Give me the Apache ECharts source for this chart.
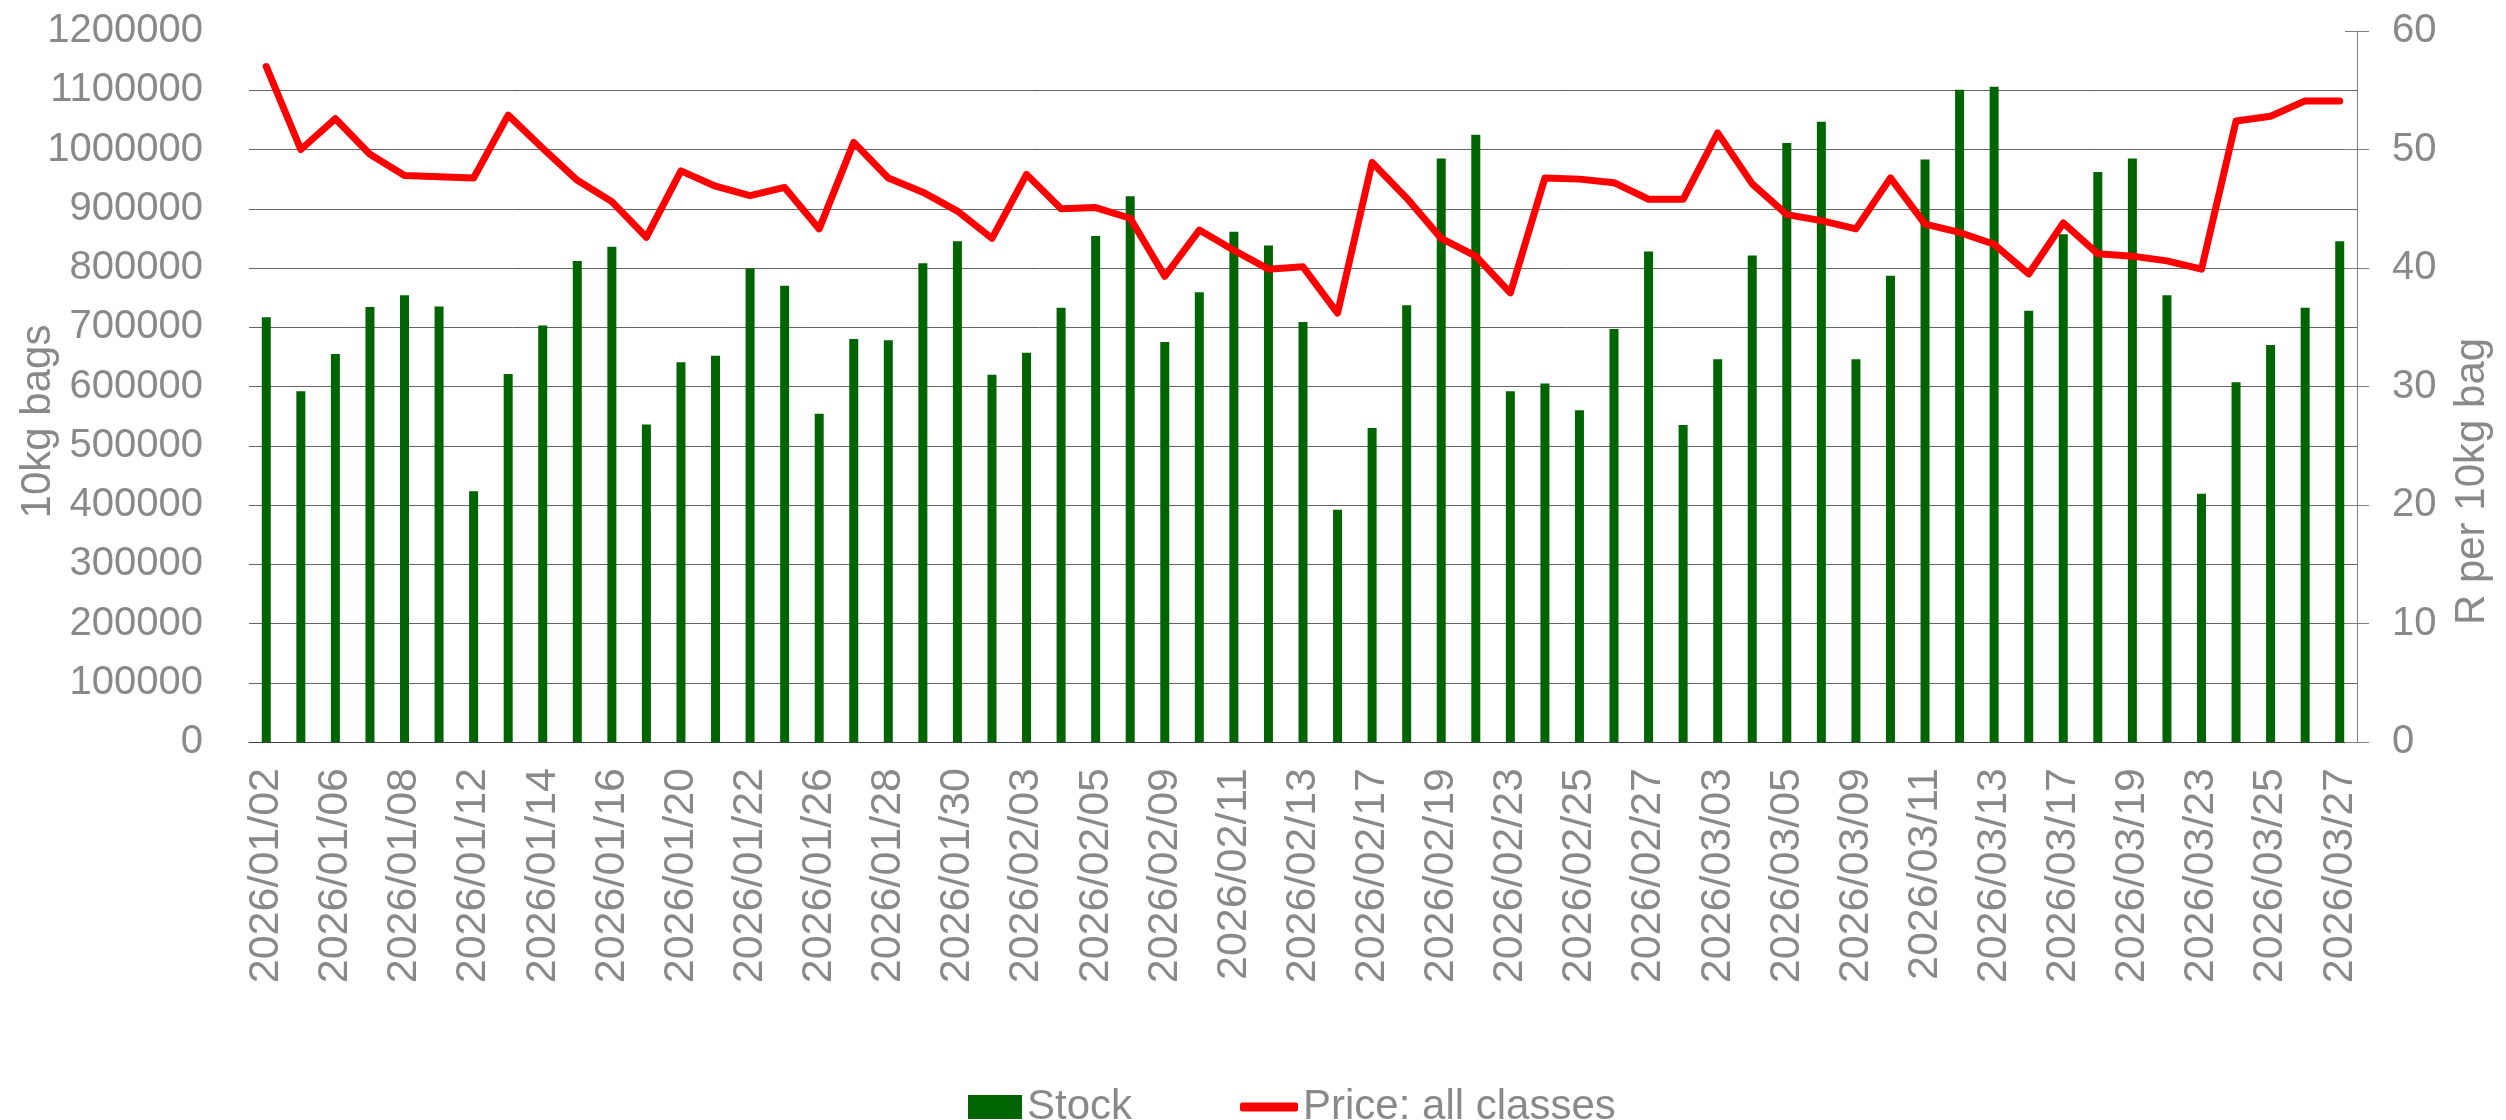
<!DOCTYPE html>
<html>
<head>
<meta charset="utf-8">
<script src="https://cdn.jsdelivr.net/npm/echarts@6/dist/echarts.min.js"></script>
<style>
  html, body { margin: 0; padding: 0; background: #ffffff; }
  #chart_stockPrice { width: 2506px; height: 1120px; }
</style>
</head>
<body>
<div id="chart_stockPrice"></div>
<script>
// trading days
const dates = [
  '2026/01/02', '2026/01/05', '2026/01/06', '2026/01/07', '2026/01/08', '2026/01/09',
  '2026/01/12', '2026/01/13', '2026/01/14', '2026/01/15', '2026/01/16',
  '2026/01/19', '2026/01/20', '2026/01/21', '2026/01/22', '2026/01/23',
  '2026/01/26', '2026/01/27', '2026/01/28', '2026/01/29', '2026/01/30',
  '2026/02/02', '2026/02/03', '2026/02/04', '2026/02/05', '2026/02/06',
  '2026/02/09', '2026/02/10', '2026/02/11', '2026/02/12', '2026/02/13',
  '2026/02/16', '2026/02/17', '2026/02/18', '2026/02/19', '2026/02/20',
  '2026/02/23', '2026/02/24', '2026/02/25', '2026/02/26', '2026/02/27',
  '2026/03/02', '2026/03/03', '2026/03/04', '2026/03/05', '2026/03/06',
  '2026/03/09', '2026/03/10', '2026/03/11', '2026/03/12', '2026/03/13',
  '2026/03/16', '2026/03/17', '2026/03/18', '2026/03/19', '2026/03/20',
  '2026/03/23', '2026/03/24', '2026/03/25', '2026/03/26', '2026/03/27'
]

// stock, 10kg bags
const stock = [
  717000, 592000, 655000, 734000, 754000, 735000,
  423000, 621000, 703000, 812000, 836000,
  536000, 641000, 652000, 799000, 770000,
  554000, 680000, 678000, 808000, 845000,
  620000, 657000, 733000, 854000, 921000,
  675000, 759000, 861000, 838000, 709000,
  392000, 530000, 737000, 985000, 1025000,
  592000, 605000, 560000, 697000, 828000,
  535000, 646000, 821000, 1011000, 1047000,
  646000, 787000, 983000, 1101000, 1106000,
  728000, 857000, 962000, 985000, 754000,
  419000, 607000, 670000, 733000, 845000
]

// price, R per 10kg bag
const price = [
  57.0, 50.0, 52.6, 49.6, 47.8, 47.7,
  47.6, 52.9, 50.1, 47.4, 45.6,
  42.6, 48.2, 46.9, 46.1, 46.8,
  43.3, 50.6, 47.6, 46.4, 44.8,
  42.5, 47.9, 45.0, 45.1, 44.2,
  39.3, 43.2, 41.5, 39.9, 40.1,
  36.2, 48.9, 45.9, 42.5, 41.0,
  37.9, 47.6, 47.5, 47.2, 45.8,
  45.8, 51.4, 47.1, 44.5, 44.0,
  43.3, 47.6, 43.7, 43.0, 42.0,
  39.5, 43.8, 41.2, 41.0, 40.6,
  39.9, 52.4, 52.8, 54.1, 54.1
]

const grey = '#898989'
const font = 'Liberation Sans, Arial, sans-serif'

let option = {
  animation: false,
  textStyle: { fontFamily: font },
  grid: { left: 249, right: 149, top: 31, bottom: 378, outerBoundsMode: 'none' },
  legend: [
    {
      data: [{ name: 'Stock', icon: 'rect' }],
      left: 963, top: 1081,
      itemWidth: 54, itemHeight: 24,
      textStyle: { color: grey, fontSize: 42, fontFamily: font }
    },
    {
      data: [{ name: 'Price: all classes', icon: 'roundRect' }],
      left: 1235, top: 1081,
      itemWidth: 58, itemHeight: 9,
      textStyle: { color: grey, fontSize: 42, fontFamily: font }
    }
  ],
  xAxis: [
    {
      type: 'category',
      data: dates,
      axisLine: { lineStyle: { color: '#404040', width: 1 } },
      axisTick: { interval: 0, length: 12, lineStyle: { color: '#404040' } },
      axisLabel: { interval: 1, rotate: 90, margin: 26, color: grey, fontSize: 43, fontFamily: font }
    },
    {
      // second copy only for the ticks pointing up into the plot
      type: 'category',
      data: dates,
      position: 'bottom',
      axisLine: { show: false },
      axisTick: { inside: true, interval: 0, length: 12, lineStyle: { color: '#404040' } },
      axisLabel: { show: false }
    }
  ],
  yAxis: [
    {
      type: 'value',
      min: 0, max: 1200000, interval: 100000,
      name: '10kg bags',
      nameLocation: 'middle',
      nameRotate: 90,
      nameGap: 190,
      nameMoveOverlap: false,
      nameTextStyle: { color: grey, fontSize: 42, fontFamily: font, padding: [0, 70, 0, 0] },
      axisLine: { show: false },
      axisTick: { show: false },
      axisLabel: { color: grey, fontSize: 40, margin: 46, fontFamily: font, formatter: v => String(v) },
      splitLine: { showMaxLine: false, lineStyle: { color: '#646464', width: 1 } }
    },
    {
      type: 'value',
      position: 'right',
      min: 0, max: 60, interval: 10,
      name: 'R per 10kg bag',
      nameLocation: 'middle',
      nameRotate: 90,
      nameGap: 94,
      nameMoveOverlap: false,
      nameTextStyle: { color: grey, fontSize: 42, fontFamily: font, padding: [0, 190, 0, 0] },
      axisLine: { show: true, lineStyle: { color: '#7f7f7f', width: 1 } },
      axisTick: { show: true, length: 12, lineStyle: { color: '#7f7f7f' } },
      axisLabel: { color: grey, fontSize: 40, margin: 35, fontFamily: font },
      splitLine: { show: false }
    },
    {
      // inner half of the right axis ticks
      type: 'value',
      position: 'right',
      min: 0, max: 60, interval: 10,
      axisLine: { show: false },
      axisTick: { show: true, inside: true, length: 12, lineStyle: { color: '#7f7f7f' } },
      axisLabel: { show: false },
      splitLine: { show: false }
    }
  ],
  series: [
    {
      name: 'Stock',
      type: 'bar',
      data: stock,
      barWidth: 9,
      itemStyle: { color: '#006400' }
    },
    {
      name: 'Price: all classes',
      type: 'line',
      yAxisIndex: 1,
      data: price,
      symbol: 'none',
      lineStyle: { color: '#ff0000', width: 7, join: 'round', cap: 'round' },
      itemStyle: { color: '#ff0000' }
    }
  ]
}

let chart_stockPrice = echarts.init(document.getElementById('chart_stockPrice'))
chart_stockPrice.setOption(option)
</script>
</body>
</html>
